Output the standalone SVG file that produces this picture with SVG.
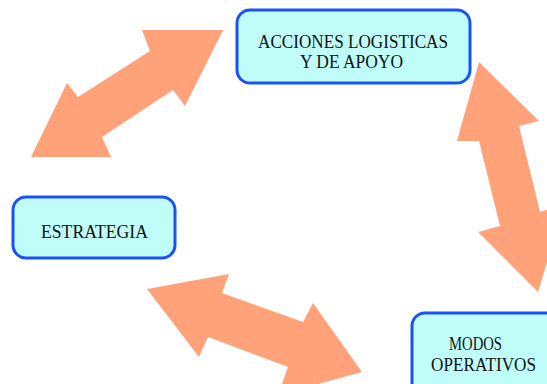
<svg xmlns="http://www.w3.org/2000/svg" width="547" height="384" viewBox="0 0 547 384">
<style>
.box{fill:#c0fdf9;stroke:#1a52f6;stroke-width:3}
.arrow{fill:#ffa27a;stroke:none}
.t{font-family:"Liberation Serif","Times New Roman",serif;font-size:19.5px;fill:#111;text-anchor:start}
</style>
<rect width="547" height="384" fill="#ffffff"/>
<g id="connectors">
<polygon class="arrow" points="223,30 185,106 173,90 102,137 111,157 31,157 67,83 78,97 150,51 142,30"/>
<polygon class="arrow" points="479,62 539,121 519,126 540,212 565,204 538,292 478,232 500,226 479,141 457,141"/>
<polygon class="arrow" points="147,289 229,274 222,293 303,322 313,303 362,372 278,395 288,367 208,337 199,357"/>
</g>
<g id="acciones">
<rect class="box" x="237" y="10" width="233" height="73" rx="13"/>
<text class="t" x="258" y="48" textLength="190" lengthAdjust="spacingAndGlyphs">ACCIONES LOGISTICAS</text>
<text class="t" x="300" y="68" textLength="103" lengthAdjust="spacingAndGlyphs">Y DE APOYO</text>
</g>
<g id="estrategia">
<rect class="box" x="13" y="197" width="162" height="61" rx="13"/>
<text class="t" x="41" y="238" textLength="107" lengthAdjust="spacingAndGlyphs">ESTRATEGIA</text>
</g>
<g id="modos">
<rect class="box" x="412" y="313" width="150" height="90" rx="13"/>
<text class="t" x="449" y="350" textLength="53" lengthAdjust="spacingAndGlyphs">MODOS</text>
<text class="t" x="431" y="371" textLength="105" lengthAdjust="spacingAndGlyphs">OPERATIVOS</text>
</g>
</svg>
